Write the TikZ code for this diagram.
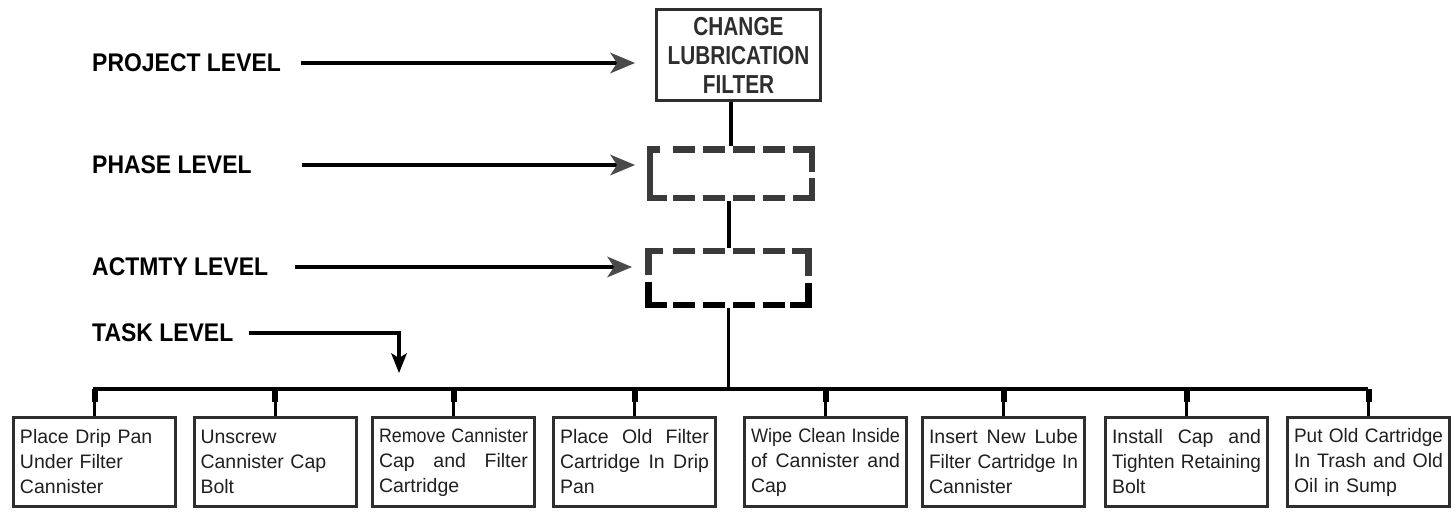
\documentclass[tikz,border=0pt]{standalone}
\usepackage{fontspec}
\usepackage{graphicx}
\usetikzlibrary{arrows.meta,calc}
\setmainfont{Liberation Sans}
\newfontfamily\lblfont{Liberation Sans}[FakeStretch=0.9]
\newfontfamily\ttlfont{Liberation Sans}[FakeStretch=0.8]
\definecolor{ink}{HTML}{2E2E2E}
\definecolor{dashgray}{HTML}{3A3A3A}
\definecolor{headgray}{HTML}{4A4A4A}

% task text lines: justified to the box width, squeezed sideways when too long
\newsavebox\linebox
\newlength\tw \setlength\tw{149bp}
\newlength\natw
\newcommand\squeeze{\setlength\natw{\wd\linebox}\scalebox{\fpeval{\tw/\natw}}[1]{\usebox\linebox}}
\newcommand\spread[1]{\leavevmode\hbox to \tw{\spaceskip=\fontdimen2\font plus 1fil\relax\xspaceskip=\spaceskip #1}}
\newcommand\jline[1]{\sbox\linebox{#1}\ifdim\wd\linebox>\tw\squeeze\else\spread{#1}\fi}
\newcommand\fline[1]{\sbox\linebox{#1}\ifdim\wd\linebox>\tw\squeeze\else\usebox\linebox\fi}

\tikzset{
  lvl/.style={font=\lblfont\bfseries\fontsize{25.5bp}{29bp}\selectfont, inner sep=0pt, anchor=west},
  lvlarrow/.style={line width=3.5bp, -{Stealth[length=25bp,width=21bp,inset=7bp,line width=0bp,color=headgray]}},
  taskarrow/.style={line width=3.5bp, -{Stealth[length=20bp,width=16bp,inset=5bp,line width=0bp]}},
  conn/.style={line width=4bp},
  barpen/.style={line width=3.5bp},
  tickthin/.style={line width=3bp},
  tickthick/.style={line width=6bp},
  dashpen/.style={line width=6.5bp, line cap=butt, miter limit=10},
  midash/.style={dashpen, dash pattern=on 22bp off 8bp},
  taskbox/.style={draw=ink, line width=3bp, minimum width=162bp, minimum height=89bp,
    text width=\tw, align=left, inner sep=0pt,
    font=\fontsize{19.5bp}{25bp}\selectfont, text=black!88},
  projbox/.style={draw=ink, line width=3bp, minimum width=164bp, minimum height=91bp,
    align=center, inner sep=0pt, text=ink,
    font=\ttlfont\bfseries\fontsize{26bp}{29bp}\selectfont},
  holder/.style={inner sep=0pt, outer sep=0pt}
}

\begin{document}
\begin{tikzpicture}[x=1bp, y=-1bp]
\useasboundingbox (0,0) rectangle (1456,512);

% level labels
\node[lvl] (lp) at (92,63)  {PROJECT LEVEL};
\node[lvl] (lh) at (92,165) {PHASE LEVEL};
\node[lvl] (la) at (92,267) {ACTMTY LEVEL};
\node[lvl] (lt) at (92,333) {TASK LEVEL};

% project box
\node[projbox] (top) at (738.5,55) {CHANGE\\LUBRICATION\\FILTER};

% phase and activity placeholders (outlines drawn below)
\node[holder, minimum width=168bp, minimum height=55bp] (phase) at (731,173.5) {};
\node[holder, minimum width=167bp, minimum height=60bp] (act) at (728.5,278) {};

% phase box outline
\begin{scope}[draw=dashgray, color=dashgray]
  \draw[dashpen] (660,149.5) -- (650,149.5) -- (650,198) -- (667,198);
  \draw[dashpen] (793,149.5) -- (812,149.5) -- (812,172);
  \draw[dashpen] (812,178) -- (812,198) -- (793,198);
  \draw[midash] (673,149.5) -- (787,149.5);
  \draw[midash] (673,198) -- (787,198);
\end{scope}

% activity box outline: grey upper half, black lower half
\begin{scope}[draw=dashgray]
  \draw[dashpen] (663,251) -- (648.5,251) -- (648.5,275);
  \draw[dashpen] (792,251) -- (808.5,251) -- (808.5,276);
  \draw[midash] (673,251) -- (785,251);
\end{scope}
\draw[dashpen] (648.5,282) -- (648.5,305) -- (667,305);
\draw[dashpen] (790,305) -- (808.5,305) -- (808.5,283);
\draw[midash] (673,305) -- (785,305);

% level arrows
\draw[lvlarrow, shorten >=20bp] ([xshift=20bp]lp.east) -- (lp.east -| top.west);
\draw[lvlarrow, shorten >=12bp] ([xshift=50bp]lh.east) -- (lh.east -| phase.west);
\draw[lvlarrow, shorten >=13bp] ([xshift=27bp]la.east) -- (la.east -| act.west);
\coordinate (taskend) at (399,373);
\draw[taskarrow] ([xshift=15bp]lt.east) -| (taskend);

% hierarchy connectors
\draw[conn] (phase.north |- top.south) -- (phase.north);
\draw[conn] (act.north) -- (act.north |- phase.south);
\coordinate (barL) at (93,389);
\coordinate (barR) at (1368,389);
\draw[conn, line width=3bp] (act.south) -- (act.south |- barL);
\draw[barpen] (barL) -- (barR);

% task boxes
\node[taskbox] (tb1) at (94.5,462)   {\fline{Place Drip Pan}\\\fline{Under Filter}\\Cannister};
\node[taskbox] (tb2) at (275,462)    {Unscrew\\\fline{Cannister Cap}\\Bolt};
\node[taskbox] (tb3) at (453.5,462)  {\jline{Remove Cannister}\\\jline{Cap and Filter}\\Cartridge};
\node[taskbox] (tb4) at (634.5,462)  {\jline{Place Old Filter}\\\jline{Cartridge In Drip}\\Pan};
\node[taskbox] (tb5) at (825.5,462)  {\jline{Wipe Clean Inside}\\\jline{of Cannister and}\\Cap};
\node[taskbox] (tb6) at (1003.5,462) {\jline{Insert New Lube}\\\jline{Filter Cartridge In}\\Cannister};
\node[taskbox] (tb7) at (1186.5,462) {\jline{Install Cap and}\\\jline{Tighten Retaining}\\Bolt};
\node[taskbox] (tb8) at (1368.5,462) {\jline{Put Old Cartridge}\\\jline{In Trash and Old}\\Oil in Sump};

% drops from the bar to each task
\foreach \t in {tb1,tb2,tb3,tb4,tb5,tb6,tb7,tb8}{
  \draw[tickthin] (\t.north) -- (\t.north |- barL);
  \draw[tickthick] (\t.north |- barL) -- ++(0,13);
}
\end{tikzpicture}
\end{document}
